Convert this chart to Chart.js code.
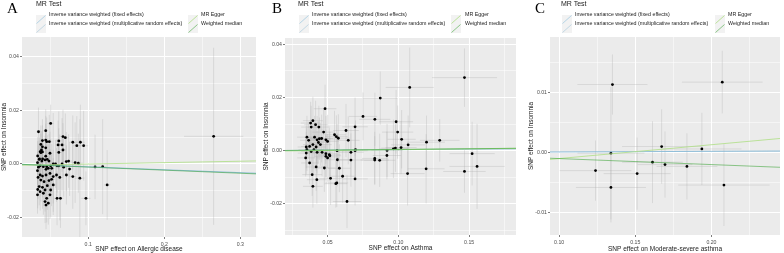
<!DOCTYPE html>
<html>
<head>
<meta charset="utf-8">
<script src="https://cdn.jsdelivr.net/npm/chart.js@4.4.1/dist/chart.umd.min.js"></script>
<style>
  body { margin:0; background:#fff; width:784px; height:253px; position:relative; overflow:hidden;
         font-family:"Liberation Sans", Arial, sans-serif; }
  canvas { position:absolute; top:0; }
  .letter { position:absolute; top:1px; font:15px/15px "Liberation Serif", "Times New Roman", serif; color:#000; }
  .mrtest { position:absolute; top:0; font-size:7px; line-height:7px; color:#222; }
  .key { position:absolute; width:10px; height:9px; }
  .txt { position:absolute; font-size:5.3px; line-height:9px; color:#222; white-space:nowrap; }
</style>
</head>
<body>
<canvas id="cA" width="260" height="253" style="left:0"></canvas>
<canvas id="cB" width="260" height="253" style="left:260px"></canvas>
<canvas id="cC" width="264" height="253" style="left:520px"></canvas>
<div id="legends"></div>
<script>
// MR methods (legend) and the fitted lines: y = intercept + slope * x
const methods = ['Inverse variance weighted (fixed effects)', 'Inverse variance weighted (multiplicative random effects)', 'MR Egger', 'Weighted median'];
const methodColors = ['rgba(166,206,227,0.9)', 'rgba(31,120,180,0.25)', 'rgba(178,223,138,0.95)', 'rgba(51,160,44,0.6)'];

// A: Allergic disease -> Insomnia
const aX = [0.0346,0.0506,0.0441,0.0668,0.0699,0.0613,0.0797,0.0897,0.0604,0.0656,0.0850,0.0940,0.0613,0.0668,0.0497,0.0398,0.0441,0.0377,0.0398,0.0441,0.0385,0.0368,0.0398,0.0377,0.0454,0.0488,0.0441,0.0359,0.0400,0.0462,0.0355,0.0390,0.0432,0.0484,0.0368,0.0410,0.0454,0.0506,0.0540,0.0570,0.0590,0.0475,0.0445,0.0520,0.0712,0.0742,0.0828,0.0870,0.0656,0.0613,0.0677,0.0755,0.0713,0.0797,0.0890,0.0368,0.0398,0.0445,0.0497,0.0540,0.0583,0.0626,0.0377,0.0419,0.0484,0.0519,0.0355,0.0398,0.0462,0.0540,0.0432,0.0506,0.0368,0.0333,0.0410,0.0497,0.0454,0.0590,0.0635,0.0970,0.0432,0.0475,0.0445,0.1090,0.1190,0.1249,0.2650,0.0333,0.0333,0.0340,0.0335,0.0345,0.0336];
const aY = [0.0120,0.0151,0.0124,0.0102,0.0098,0.0086,0.0081,0.0081,0.0071,0.0071,0.0068,0.0068,0.0043,0.0052,0.0040,0.0087,0.0089,0.0073,0.0064,0.0060,0.0052,0.0046,0.0045,0.0042,0.0083,0.0083,0.0029,0.0019,0.0019,0.0017,0.0017,0.0011,0.0015,0.0011,-0.0007,-0.0010,-0.0010,-0.0007,0.0000,0.0000,-0.0007,-0.0016,-0.0020,-0.0016,0.0009,0.0011,0.0005,0.0003,0.0000,-0.0007,-0.0012,-0.0019,-0.0041,-0.0047,-0.0053,-0.0041,-0.0045,-0.0041,-0.0035,-0.0047,-0.0041,-0.0050,-0.0060,-0.0066,-0.0062,-0.0057,-0.0084,-0.0087,-0.0081,-0.0078,-0.0097,-0.0097,-0.0103,-0.0115,-0.0109,-0.0115,-0.0128,-0.0128,-0.0128,-0.0128,-0.0140,-0.0146,-0.0153,-0.0011,-0.0010,-0.0078,0.0103,0.0005,-0.0025,-0.0050,0.0030,-0.0012,-0.0095];
const aSeX = [0.003,0.004,0.003,0.004,0.005,0.004,0.005,0.006,0.004,0.004,0.005,0.006,0.004,0.004,0.003,0.003,0.003,0.003,0.003,0.003,0.003,0.002,0.003,0.003,0.003,0.004,0.003,0.002,0.003,0.003,0.002,0.003,0.003,0.003,0.002,0.003,0.003,0.004,0.004,0.004,0.004,0.003,0.003,0.004,0.005,0.005,0.005,0.006,0.004,0.004,0.005,0.005,0.005,0.005,0.006,0.002,0.003,0.003,0.003,0.004,0.004,0.004,0.002,0.003,0.003,0.004,0.002,0.003,0.003,0.004,0.003,0.004,0.002,0.002,0.003,0.003,0.003,0.004,0.004,0.006,0.003,0.003,0.003,0.007,0.005,0.004,0.039,0.002,0.002,0.002,0.002,0.002,0.002];
const aSeY = [0.009,0.007,0.008,0.010,0.009,0.011,0.010,0.014,0.009,0.010,0.011,0.013,0.009,0.010,0.008,0.008,0.009,0.007,0.008,0.009,0.007,0.008,0.008,0.007,0.009,0.010,0.009,0.008,0.008,0.009,0.007,0.008,0.009,0.010,0.008,0.009,0.008,0.010,0.019,0.009,0.010,0.009,0.008,0.009,0.011,0.010,0.015,0.011,0.010,0.009,0.011,0.010,0.011,0.012,0.022,0.008,0.008,0.009,0.009,0.010,0.010,0.016,0.008,0.009,0.009,0.010,0.007,0.008,0.009,0.010,0.008,0.010,0.007,0.007,0.008,0.009,0.009,0.010,0.011,0.010,0.008,0.008,0.009,0.012,0.0177,0.013,0.033,0.008,0.007,0.008,0.007,0.008,0.007];
const aSlope = [-0.0108, -0.0108, 0.0052, -0.0115];
const aIntercept = [0, 0, -0.00054, 0];
const aXRange = [0.0129, 0.3207], aYRange = [-0.0272, 0.0473];
const aXTicks = [0.1, 0.2, 0.3], aXLabels = ['0.1', '0.2', '0.3'], aXMinor = [0.05, 0.15, 0.25];
const aYTicks = [-0.02, 0, 0.02, 0.04], aYLabels = ['-0.02', '0.00', '0.02', '0.04'], aYMinor = [-0.01, 0.01, 0.03];

// B: Asthma -> Insomnia
const bX = [0.1467,0.1080,0.0872,0.0750,0.0834,0.0984,0.0995,0.1023,0.1292,0.1199,0.1069,0.1019,0.0979,0.0965,0.0920,0.0919,0.0833,0.0833,0.0868,0.1065,0.1196,0.1467,0.1521,0.1556,0.0694,0.0694,0.0694,0.0637,0.0665,0.0665,0.0630,0.0646,0.0606,0.0576,0.0562,0.0549,0.0567,0.0565,0.0583,0.0521,0.0482,0.0380,0.0396,0.0384,0.0415,0.0438,0.0472,0.0354,0.0366,0.0408,0.0426,0.0442,0.0458,0.0435,0.0396,0.0373,0.0349,0.0419,0.0449,0.0488,0.0500,0.0349,0.0384,0.0403,0.0426,0.0461,0.0488,0.0512,0.0488,0.0500,0.0516,0.0569,0.0697,0.0373,0.0419,0.0477,0.0391,0.0424,0.0558,0.0396,0.0354,0.0345];
const bY = [0.0275,0.0238,0.0198,0.0129,0.0118,0.0109,0.0070,0.0043,0.0039,0.0032,0.0022,0.0012,0.0010,0.0007,0.0001,-0.0018,-0.0029,-0.0035,-0.0036,-0.0086,-0.0068,-0.0078,-0.0011,-0.0059,0.0000,-0.0106,0.0090,-0.0191,-0.0006,-0.0035,0.0076,0.0039,-0.0096,0.0047,0.0053,0.0060,0.0000,-0.0121,-0.0066,-0.0104,0.0158,0.0104,0.0113,0.0089,0.0098,0.0089,0.0070,0.0051,0.0039,0.0051,0.0041,0.0045,0.0046,0.0031,0.0023,0.0016,0.0014,0.0014,0.0023,0.0041,0.0035,-0.0009,-0.0003,0.0004,-0.0006,-0.0006,-0.0011,-0.0015,-0.0021,-0.0027,-0.0019,-0.0034,0.0004,-0.0046,-0.0061,-0.0065,-0.0090,-0.0109,-0.0124,-0.0134,0.0004,-0.0027];
const bSeX = [0.023,0.017,0.012,0.010,0.011,0.012,0.011,0.010,0.014,0.013,0.012,0.011,0.010,0.010,0.011,0.010,0.009,0.010,0.011,0.012,0.013,0.015,0.016,0.0195,0.009,0.009,0.009,0.010,0.009,0.009,0.009,0.008,0.009,0.008,0.008,0.008,0.008,0.008,0.008,0.008,0.008,0.007,0.007,0.007,0.008,0.008,0.008,0.007,0.006,0.007,0.007,0.008,0.008,0.007,0.007,0.006,0.006,0.007,0.008,0.008,0.008,0.006,0.007,0.007,0.007,0.008,0.008,0.008,0.008,0.008,0.008,0.009,0.009,0.006,0.007,0.008,0.007,0.007,0.008,0.007,0.006,0.006];
const bSeY = [0.011,0.015,0.010,0.009,0.010,0.012,0.010,0.011,0.008,0.010,0.011,0.010,0.009,0.011,0.010,0.009,0.010,0.009,0.010,0.012,0.013,0.008,0.012,0.016,0.010,0.010,0.011,0.010,0.009,0.010,0.010,0.009,0.010,0.009,0.008,0.009,0.010,0.009,0.009,0.010,0.009,0.008,0.009,0.008,0.009,0.008,0.009,0.008,0.007,0.008,0.009,0.008,0.009,0.008,0.008,0.007,0.008,0.009,0.008,0.009,0.010,0.008,0.008,0.009,0.008,0.009,0.009,0.010,0.008,0.009,0.009,0.010,0.011,0.008,0.009,0.009,0.008,0.009,0.009,0.008,0.008,0.007];
const bSlope = [0.004, 0.004, 0.006, 0.005];
const bIntercept = [0, 0, -0.0002, 0];
const bXRange = [0.0199, 0.1831], bYRange = [-0.0317, 0.0424];
const bXTicks = [0.05, 0.10, 0.15], bXLabels = ['0.05', '0.10', '0.15'], bXMinor = [0.025, 0.075, 0.125, 0.175];
const bYTicks = [-0.02, 0, 0.02, 0.04], bYLabels = ['-0.02', '0.00', '0.02', '0.04'], bYMinor = [-0.03, -0.01, 0.01, 0.03];

// C: Moderate-severe asthma -> Insomnia
const cX = [0.1350,0.2071,0.1340,0.1239,0.1340,0.1512,0.1613,0.1673,0.1695,0.1839,0.1937,0.2082];
const cY = [0.0113,0.0117,-0.0001,-0.0030,-0.0058,-0.0035,-0.0016,0.0010,-0.0020,-0.0023,0.0006,-0.0054];
const cSeX = [0.023,0.0265,0.022,0.0235,0.023,0.022,0.020,0.026,0.018,0.020,0.026,0.030];
const cSeY = [0.0050,0.0052,0.0110,0.0050,0.0058,0.0060,0.0068,0.0062,0.0055,0.0055,0.0060,0.0068];
const cSlope = [0.001, 0.001, 0.023, -0.010];
const cIntercept = [0, 0, -0.0033, 0];
const cXRange = [0.094, 0.245], cYRange = [-0.0137, 0.0192];
const cXTicks = [0.10, 0.15, 0.20], cXLabels = ['0.10', '0.15', '0.20'], cXMinor = [0.125, 0.175, 0.225];
const cYTicks = [-0.01, 0, 0.01], cYLabels = ['-0.01', '0.00', '0.01'], cYMinor = [-0.005, 0.005, 0.015];

const panelBg = {
  id: 'panelBg',
  beforeDraw(chart) {
    const { ctx, chartArea: a } = chart;
    ctx.save();
    ctx.fillStyle = '#ebebeb';
    ctx.fillRect(a.left, a.top, a.width, a.height);
    ctx.restore();
  }
};

function errorBars(xs, ys, sx, sy) {
  return {
    id: 'errorBars',
    beforeDatasetsDraw(chart) {
      const { ctx, chartArea: a, scales: { x, y } } = chart;
      ctx.save();
      ctx.beginPath();
      ctx.rect(a.left, a.top, a.width, a.height);
      ctx.clip();
      ctx.strokeStyle = 'rgba(175,175,175,0.55)';
      ctx.lineWidth = 0.6;
      xs.forEach((v, i) => {
        const px = x.getPixelForValue(v), py = y.getPixelForValue(ys[i]);
        ctx.beginPath();
        ctx.moveTo(x.getPixelForValue(v - sx[i]), py);
        ctx.lineTo(x.getPixelForValue(v + sx[i]), py);
        ctx.moveTo(px, y.getPixelForValue(ys[i] - sy[i]));
        ctx.lineTo(px, y.getPixelForValue(ys[i] + sy[i]));
        ctx.stroke();
      });
      ctx.restore();
    }
  };
}

function axis(range, major, labels, minor, title, size, titlePad, horizontal) {
  const all = major.concat(minor);
  const isMajor = ctx => ctx.tick && major.includes(ctx.tick.value);
  return {
    type: 'linear',
    min: range[0], max: range[1],
    afterBuildTicks: s => { s.ticks = all.map(v => ({ value: v })); },
    afterFit: s => { if (horizontal) s.height = size; else s.width = size; },
    ticks: {
      autoSkip: false, maxRotation: 0, padding: horizontal ? 2 : 1,
      font: { size: 5.2, family: '"Liberation Sans", Arial, sans-serif' }, color: '#4d4d4d',
      callback: (v, i) => i < major.length ? labels[i] : ''
    },
    grid: {
      color: '#ffffff',
      lineWidth: ctx => isMajor(ctx) ? 1 : 0.5,
      tickColor: ctx => isMajor(ctx) ? '#444' : 'rgba(0,0,0,0)',
      tickLength: 2, tickWidth: 0.7
    },
    border: { display: false },
    title: {
      display: true, text: title, color: '#222',
      font: { size: 6.5, family: '"Liberation Sans", Arial, sans-serif' },
      padding: horizontal ? { top: 0, bottom: titlePad } : { top: titlePad, bottom: 0 }
    }
  };
}

function panel(id, d) {
  const lines = methods.map((m, i) => ({
    type: 'line', label: m,
    data: [d.xr[0], d.xr[1]].map(v => ({ x: v, y: d.icpt[i] + d.slope[i] * v })),
    borderColor: methodColors[i], borderWidth: 0.9, pointRadius: 0, order: 3 - i
  }));
  new Chart(document.getElementById(id), {
    type: 'scatter',
    data: {
      datasets: lines.concat([{
        label: 'SNP', order: 4,
        data: d.x.map((v, i) => ({ x: v, y: d.y[i] })),
        backgroundColor: '#000', borderWidth: 0, pointRadius: 1.4
      }])
    },
    options: {
      responsive: false, animation: false,
      layout: { padding: { top: d.top, right: 0, left: 0, bottom: 0 } },
      scales: {
        x: axis(d.xr, d.xt, d.xl, d.xm, d.xTitle, d.xH, d.xTitlePad, true),
        y: axis(d.yr, d.yt, d.yl, d.ym, 'SNP effect on Insomnia', d.yW, d.yTitlePad, false)
      },
      plugins: { legend: { display: false }, tooltip: { enabled: false } }
    },
    plugins: [panelBg, errorBars(d.x, d.y, d.sx, d.sy)]
  });
}

panel('cA', { x: aX, y: aY, sx: aSeX, sy: aSeY, slope: aSlope, icpt: aIntercept,
  xr: aXRange, yr: aYRange, xt: aXTicks, xl: aXLabels, xm: aXMinor, yt: aYTicks, yl: aYLabels, ym: aYMinor,
  xTitle: 'SNP effect on Allergic disease', top: 37, yW: 22, xH: 16, yTitlePad: 0, xTitlePad: 0 });
panel('cB', { x: bX, y: bY, sx: bSeX, sy: bSeY, slope: bSlope, icpt: bIntercept,
  xr: bXRange, yr: bYRange, xt: bXTicks, xl: bXLabels, xm: bXMinor, yt: bYTicks, yl: bYLabels, ym: bYMinor,
  xTitle: 'SNP effect on Asthma', top: 38, yW: 25, xH: 18, yTitlePad: 2, xTitlePad: 0.8 });
panel('cC', { x: cX, y: cY, sx: cSeX, sy: cSeY, slope: cSlope, icpt: cIntercept,
  xr: cXRange, yr: cYRange, xt: cXTicks, xl: cXLabels, xm: cXMinor, yt: cYTicks, yl: cYLabels, ym: cYMinor,
  xTitle: 'SNP effect on Moderate-severe asthma', top: 37, yW: 30, xH: 18, yTitlePad: 7.5, xTitlePad: 0 });

// legends: letter, "MR Test" and the 2x2 key grid for each panel
const legendSpots = [
  { letter: 'A', lx: 7, tx: 36, k1: 36, t1: 49, k2: 188, t2: 201 },
  { letter: 'B', lx: 272, tx: 298, k1: 299, t1: 312, k2: 451, t2: 465 },
  { letter: 'C', lx: 535, tx: 561, k1: 562, t1: 575, k2: 715, t2: 728 }
];
const keySvg = c => `<svg width="10" height="9"><rect width="10" height="9" fill="#f2f2f2"/><line x1="0.5" y1="8.5" x2="9.5" y2="0.5" stroke="${c}" stroke-width="0.9"/></svg>`;
let html = '';
legendSpots.forEach(p => {
  html += `<div class="letter" style="left:${p.lx}px">${p.letter}</div>`;
  html += `<div class="mrtest" style="left:${p.tx}px">MR Test</div>`;
  methods.forEach((m, i) => {
    const col2 = i >= 2, top = (i % 2) ? 19 : 10;
    html += `<div class="key" style="left:${col2 ? p.k2 : p.k1}px;top:${top}px">${keySvg(methodColors[i])}</div>`;
    html += `<div class="txt" style="left:${col2 ? p.t2 : p.t1}px;top:${top}px">${m}</div>`;
  });
});
document.getElementById('legends').innerHTML = html;
</script>
</body>
</html>
